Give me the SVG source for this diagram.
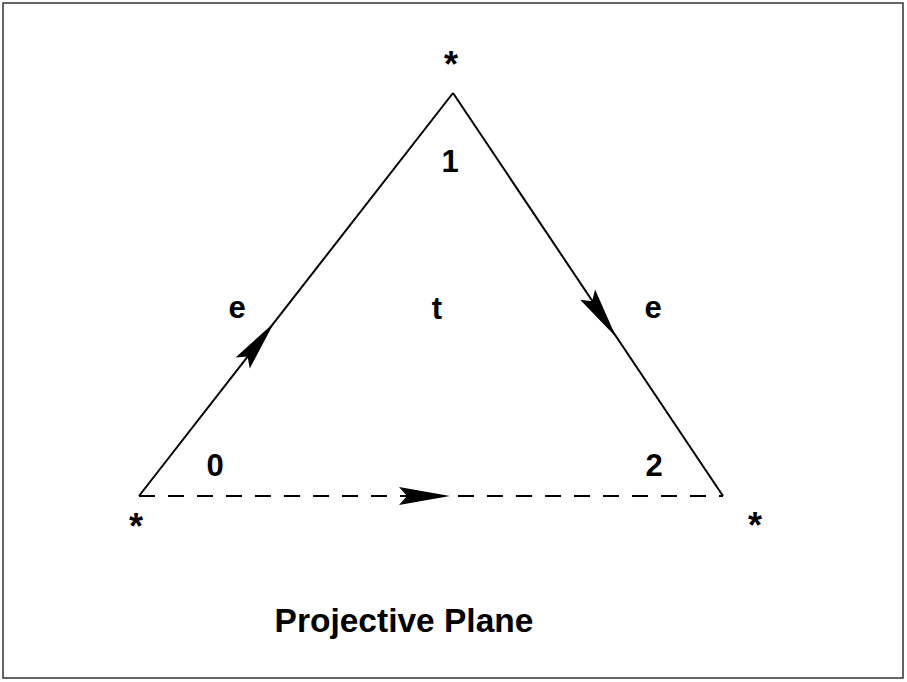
<svg xmlns="http://www.w3.org/2000/svg" width="907" height="682" viewBox="0 0 907 682">
<style>
.lbl{font-family:"Liberation Sans",Arial,sans-serif;font-weight:bold;font-size:31px;fill:#000;text-anchor:middle}
.star{font-family:"Liberation Sans",Arial,sans-serif;font-weight:bold;font-size:36px;fill:#000;text-anchor:middle}
.title{font-family:"Liberation Sans",Arial,sans-serif;font-weight:bold;font-size:33.5px;fill:#000;text-anchor:middle}
.edge{stroke:#000;stroke-width:2;fill:none}
.dash{stroke-dasharray:16 13}
</style>
<defs>
<path id="ah" d="M0,0 L-51,-9 L-43,0 L-51,9 Z" fill="#000"/>
</defs>
<rect x="3" y="3" width="900" height="675" fill="#fff" stroke="#333" stroke-width="1.5"/>
<g id="connectors">
<line class="edge" x1="139" y1="496" x2="453" y2="93"/>
<line class="edge" x1="453" y1="93" x2="723" y2="496"/>
<line class="edge dash" x1="139" y1="496" x2="723" y2="496"/>
<use href="#ah" transform="translate(274,322.7) rotate(-52.07)"/>
<use href="#ah" transform="translate(616,337) rotate(56.18)"/>
<use href="#ah" transform="translate(450,496)"/>
</g>
<g id="v_top"><text class="star" x="451" y="77">*</text></g>
<g id="v_left"><text class="star" x="136" y="539">*</text></g>
<g id="v_right"><text class="star" x="755" y="538">*</text></g>
<g id="c1"><text class="lbl" x="450" y="172">1</text></g>
<g id="c0"><text class="lbl" x="215" y="476">0</text></g>
<g id="c2"><text class="lbl" x="654" y="476">2</text></g>
<g id="e_left"><text class="lbl" x="237" y="318">e</text></g>
<g id="e_right"><text class="lbl" x="653" y="318">e</text></g>
<g id="face"><text class="lbl" x="437" y="319">t</text></g>
<g id="title"><text class="title" x="404" y="632">Projective Plane</text></g>
</svg>
